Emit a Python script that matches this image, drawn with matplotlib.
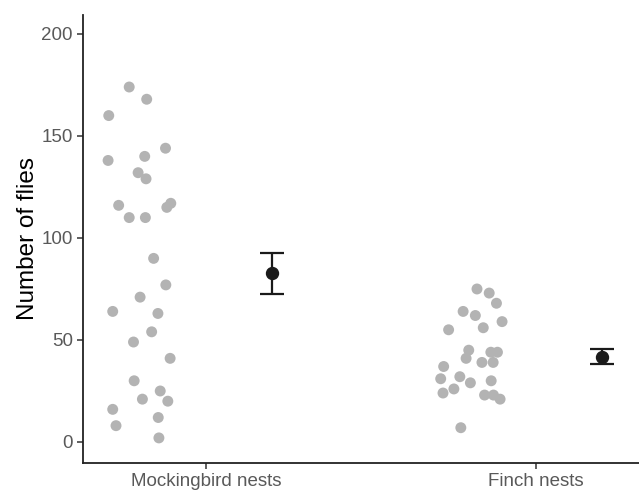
import numpy as np
import matplotlib
matplotlib.use("Agg")
import matplotlib.pyplot as plt

plt.rcParams['font.family'] = ['Liberation Sans', 'DejaVu Sans']

# data
groups = ["Mockingbird nests", "Finch nests"]

mock_flies = [174, 168, 160, 144, 138, 140, 132, 129, 116, 115, 117, 110, 110, 90,
              77, 71, 64, 63, 54, 49, 41, 30, 25, 21, 20, 16, 12, 8, 2]
mock_jitter = [-0.232, -0.179, -0.294, -0.122, -0.296, -0.185, -0.205, -0.181, -0.264,
               -0.118, -0.106, -0.232, -0.183, -0.158, -0.121, -0.199, -0.282, -0.145,
               -0.164, -0.219, -0.108, -0.217, -0.138, -0.192, -0.115, -0.282, -0.144,
               -0.272, -0.142]

finch_flies = [75, 73, 68, 64, 62, 59, 56, 55, 45, 41, 44, 44, 39, 39, 37, 31, 32, 29,
               30, 26, 24, 23, 23, 21, 7]
finch_jitter = [-0.178, -0.141, -0.119, -0.220, -0.183, -0.102, -0.159, -0.264, -0.203,
                -0.211, -0.136, -0.116, -0.163, -0.129, -0.279, -0.288, -0.230, -0.198,
                -0.135, -0.248, -0.281, -0.155, -0.128, -0.108, -0.227]

fig = plt.figure(figsize=(6.39, 4.9), dpi=100)
ax = fig.add_axes([0.1294, 0.0551, 0.8706, 0.9143])

for i, (vals, jit) in enumerate([(mock_flies, mock_jitter), (finch_flies, finch_jitter)]):
    pos = i + 1
    vals = np.array(vals)
    ax.scatter(pos + np.array(jit), vals, s=62, color='#B3B3B3', edgecolors='none', zorder=2)
    # mean +/- standard error
    m = vals.mean()
    se = vals.std(ddof=1) / np.sqrt(len(vals))
    ax.errorbar(pos + 0.2, m, yerr=se, fmt='o', color='#1A1A1A', markersize=8.6,
                capsize=8.3, capthick=1.6, elinewidth=1.6, zorder=3)

ax.set_xlim(0.627, 2.313)
ax.set_ylim(-10.3, 209.3)
ax.set_xticks([1, 2])
ax.set_xticklabels(groups)
ax.set_yticks([0, 50, 100, 150, 200])
ax.set_ylabel('Number of flies', fontsize=17.5, color='black', labelpad=2)

for side in ['top', 'right']:
    ax.spines[side].set_visible(False)
for side in ['left', 'bottom']:
    ax.spines[side].set_linewidth(1.3)
    ax.spines[side].set_color('#222222')
ax.tick_params(axis='both', labelsize=13.5, labelcolor='#595959', color='#333333',
               length=4, width=1.1, pad=3)

fig.savefig('out.png', dpi=100)
